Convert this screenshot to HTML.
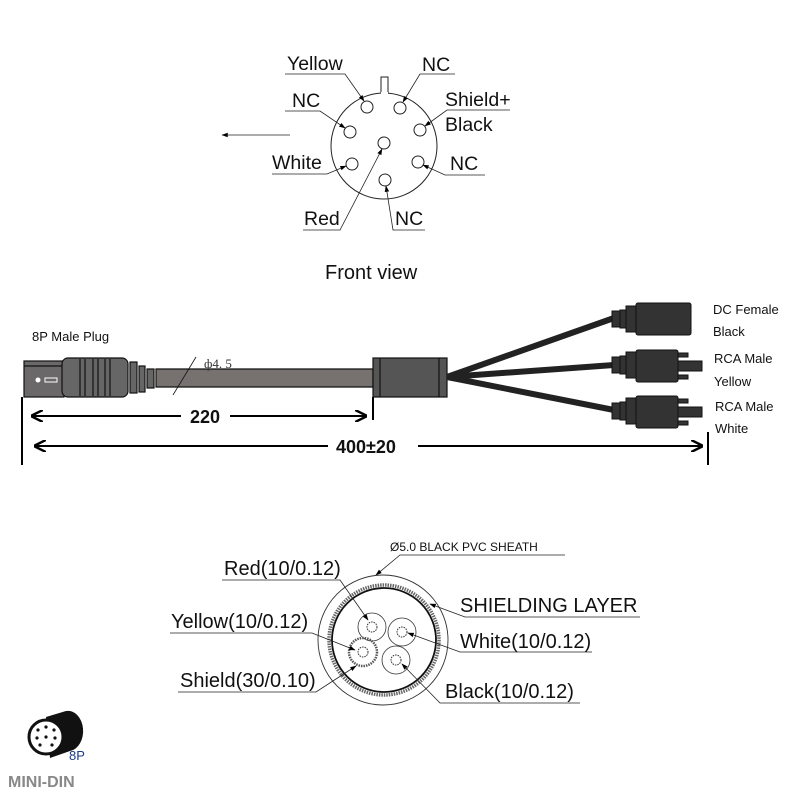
<!DOCTYPE html>
<html><head><meta charset="utf-8"><style>
html,body{margin:0;padding:0;background:#fff}
svg{display:block}
.a{font-family:"Liberation Sans",Arial,sans-serif}
</style></head><body>
<svg width="800" height="800" viewBox="0 0 800 800" xmlns="http://www.w3.org/2000/svg" class="a">
<defs>
<marker id="ar" viewBox="0 0 10 10" refX="9" refY="5" markerWidth="8" markerHeight="8" orient="auto-start-reverse"><path d="M0,1.5 L10,5 L0,8.5 Z" fill="#000"/></marker>
<marker id="ab" viewBox="0 0 10 10" refX="9" refY="5" markerWidth="12" markerHeight="12" markerUnits="userSpaceOnUse" orient="auto-start-reverse"><path d="M0,0 L10,5 L0,10" fill="none" stroke="#000" stroke-width="2"/></marker>
</defs>
<!-- Front view -->
<g stroke="#222" fill="none" stroke-width="1">
<path d="M381,93 L381,77 L388,77 L388,93"/>
<circle cx="384" cy="146" r="53" fill="#fff"/>
<path d="M381,93 L388,93" stroke="#fff" stroke-width="2"/>
<circle cx="367" cy="107" r="6"/><circle cx="400" cy="108" r="6"/>
<circle cx="350" cy="132" r="6"/><circle cx="420" cy="130" r="6"/>
<circle cx="352" cy="164" r="6"/><circle cx="418" cy="162" r="6"/>
<circle cx="384" cy="143" r="6"/><circle cx="385" cy="180" r="6"/>
<g stroke-width="0.8">
<path d="M285,74 L345,74 L364,101" marker-end="url(#ar)"/>
<path d="M455,74 L420,74 L403,102" marker-end="url(#ar)"/>
<path d="M285,111 L320,111 L345,128" marker-end="url(#ar)"/>
<path d="M510,110 L447,110 L425,126" marker-end="url(#ar)"/>
<path d="M485,175 L445,175 L423,165" marker-end="url(#ar)"/>
<path d="M272,174 L327,174 L346,166" marker-end="url(#ar)"/>
<path d="M303,230 L340,230 L382,149" marker-end="url(#ar)"/>
<path d="M425,230 L393,230 L386,186" marker-end="url(#ar)"/>
<path d="M290,135 L222,135" marker-end="url(#ar)"/>
</g>
</g>
<g font-size="19.5" fill="#111">
<text x="287" y="70">Yellow</text>
<text x="422" y="71">NC</text>
<text x="292" y="107">NC</text>
<text x="445" y="106">Shield+</text>
<text x="445" y="131">Black</text>
<text x="450" y="170">NC</text>
<text x="272" y="169">White</text>
<text x="304" y="225">Red</text>
<text x="395" y="225">NC</text>
</g>
<text x="325" y="279" font-size="20" fill="#111">Front view</text>

<!-- Cable -->
<text x="32" y="341" font-size="13" fill="#111">8P Male Plug</text>
<g stroke="#111" stroke-width="1.2">
<path d="M156,369 L373,369 L373,387 L156,387 Z" fill="#777170"/>
<rect x="24" y="361" width="40" height="36" fill="#6a6868"/>
<line x1="24" y1="366" x2="62" y2="366"/>
<rect x="62" y="358" width="66" height="39" rx="6" fill="#666"/>
<line x1="80" y1="359" x2="80" y2="396"/><line x1="85" y1="359" x2="85" y2="396"/>
<line x1="93" y1="359" x2="93" y2="396"/><line x1="98" y1="359" x2="98" y2="396"/>
<line x1="105" y1="359" x2="105" y2="396"/><line x1="110" y1="359" x2="110" y2="396"/>
<rect x="130" y="362" width="7" height="31" fill="#666"/>
<rect x="139" y="366" width="6" height="26" fill="#666"/>
<rect x="147" y="369" width="7" height="19" fill="#666"/>
<rect x="373" y="358" width="74" height="39" fill="#555"/>
<line x1="380" y1="358" x2="380" y2="397"/><line x1="439" y1="358" x2="439" y2="397"/>
</g>
<circle cx="38" cy="380" r="2.5" fill="#fff"/>
<rect x="45" y="378" width="12" height="4" fill="none" stroke="#fff" stroke-width="1"/>
<line x1="173" y1="395" x2="196" y2="357" stroke="#111" stroke-width="0.8"/>
<text x="204" y="368" font-size="13" font-family="Liberation Serif,serif" fill="#333">ф4. 5</text>
<g stroke="#222" stroke-width="6" fill="none">
<path d="M447,377 L614,318"/><path d="M447,377 L614,365"/><path d="M447,377 L614,410"/>
</g>
<g fill="#333" stroke="#111" stroke-width="1">
<rect x="612" y="311" width="8" height="16"/><rect x="620" y="310" width="6" height="18"/><rect x="626" y="306" width="10" height="26"/>
<rect x="636" y="303" width="55" height="32" rx="2"/>
<rect x="612" y="357" width="8" height="16"/><rect x="620" y="356" width="6" height="18"/><rect x="626" y="352" width="10" height="26"/>
<rect x="636" y="350" width="42" height="32" rx="2"/>
<path d="M678,353 L688,353 L688,357 L678,357 Z"/><path d="M678,375 L688,375 L688,379 L678,379 Z"/>
<rect x="678" y="361" width="24" height="10"/>
<rect x="612" y="403" width="8" height="16"/><rect x="620" y="402" width="6" height="18"/><rect x="626" y="398" width="10" height="26"/>
<rect x="636" y="396" width="42" height="32" rx="2"/>
<path d="M678,399 L688,399 L688,403 L678,403 Z"/><path d="M678,421 L688,421 L688,425 L678,425 Z"/>
<rect x="678" y="407" width="24" height="10"/>
</g>
<g font-size="13" fill="#111">
<text x="713" y="314">DC Female</text>
<text x="713" y="336">Black</text>
<text x="714" y="363">RCA Male</text>
<text x="714" y="386">Yellow</text>
<text x="715" y="411">RCA Male</text>
<text x="715" y="433">White</text>
</g>
<g stroke="#000" stroke-width="2" fill="none">
<line x1="22" y1="397" x2="22" y2="465"/>
<line x1="373" y1="397" x2="373" y2="420"/>
<line x1="708" y1="432" x2="708" y2="465"/>
<line x1="181" y1="416" x2="32" y2="416" marker-end="url(#ab)"/>
<line x1="230" y1="416" x2="366" y2="416" marker-end="url(#ab)"/>
<line x1="328" y1="446" x2="35" y2="446" marker-end="url(#ab)"/>
<line x1="418" y1="446" x2="702" y2="446" marker-end="url(#ab)"/>
</g>
<text x="190" y="423" font-size="18" font-weight="bold" fill="#111">220</text>
<text x="336" y="453" font-size="18" font-weight="bold" fill="#111">400±20</text>

<!-- cross section -->
<g fill="none" stroke="#333">
<circle cx="383" cy="640" r="65" stroke-width="0.9"/>
<circle cx="384" cy="640" r="55" stroke-width="3.5" stroke="#666" stroke-dasharray="1.5 1"/>
<circle cx="384" cy="640" r="52" stroke-width="1.8" stroke="#111"/>
<circle cx="372" cy="627" r="14" stroke-width="0.8"/>
<circle cx="402" cy="632" r="14" stroke-width="0.8"/>
<circle cx="363" cy="652" r="14" stroke-width="2.5" stroke="#555" stroke-dasharray="1.5 1"/>
<circle cx="396" cy="660" r="14" stroke-width="0.8"/>
<circle cx="372" cy="627" r="5" stroke-dasharray="1.5 1"/><circle cx="402" cy="632" r="5" stroke-dasharray="1.5 1"/>
<circle cx="363" cy="652" r="5" stroke-dasharray="1.5 1"/><circle cx="396" cy="660" r="5" stroke-dasharray="1.5 1"/>
<g stroke-width="0.8" stroke="#222">
<path d="M565,555 L400,555 L376,575" marker-end="url(#ar)"/>
<path d="M222,580 L340,580 L368,620" marker-end="url(#ar)"/>
<path d="M640,617 L465,617 L430,604" marker-end="url(#ar)"/>
<path d="M170,633 L312,633 L355,650" marker-end="url(#ar)"/>
<path d="M592,652 L460,652 L408,633" marker-end="url(#ar)"/>
<path d="M178,692 L316,692 L356,666" marker-end="url(#ar)"/>
<path d="M580,703 L440,703 L402,664" marker-end="url(#ar)"/>
</g>
</g>
<g fill="#111">
<text x="390" y="551" font-size="12">Ø5.0 BLACK PVC SHEATH</text>
<text x="224" y="575" font-size="20">Red(10/0.12)</text>
<text x="460" y="612" font-size="20">SHIELDING LAYER</text>
<text x="171" y="628" font-size="20">Yellow(10/0.12)</text>
<text x="460" y="648" font-size="20">White(10/0.12)</text>
<text x="180" y="687" font-size="20">Shield(30/0.10)</text>
<text x="445" y="698" font-size="20">Black(10/0.12)</text>
</g>
<!-- mini din -->
<path d="M46,717 L66,711 A15,20 0 0 1 70,751 L50,758 Z" fill="#111"/>
<circle cx="46" cy="737" r="17" fill="#fff" stroke="#111" stroke-width="3"/>
<g fill="#111"><circle cx="38" cy="730" r="1.6"/><circle cx="46" cy="727" r="1.6"/><circle cx="54" cy="730" r="1.6"/><circle cx="37" cy="738" r="1.6"/><circle cx="55" cy="738" r="1.6"/><circle cx="40" cy="745" r="1.6"/><circle cx="52" cy="745" r="1.6"/><circle cx="46" cy="737" r="1.6"/></g>
<text x="69" y="760" font-size="13" fill="#1a3a8a">8P</text>
<text x="8" y="787" font-size="16" font-weight="bold" fill="#888">MINI-DIN</text>
</svg>
</body></html>
